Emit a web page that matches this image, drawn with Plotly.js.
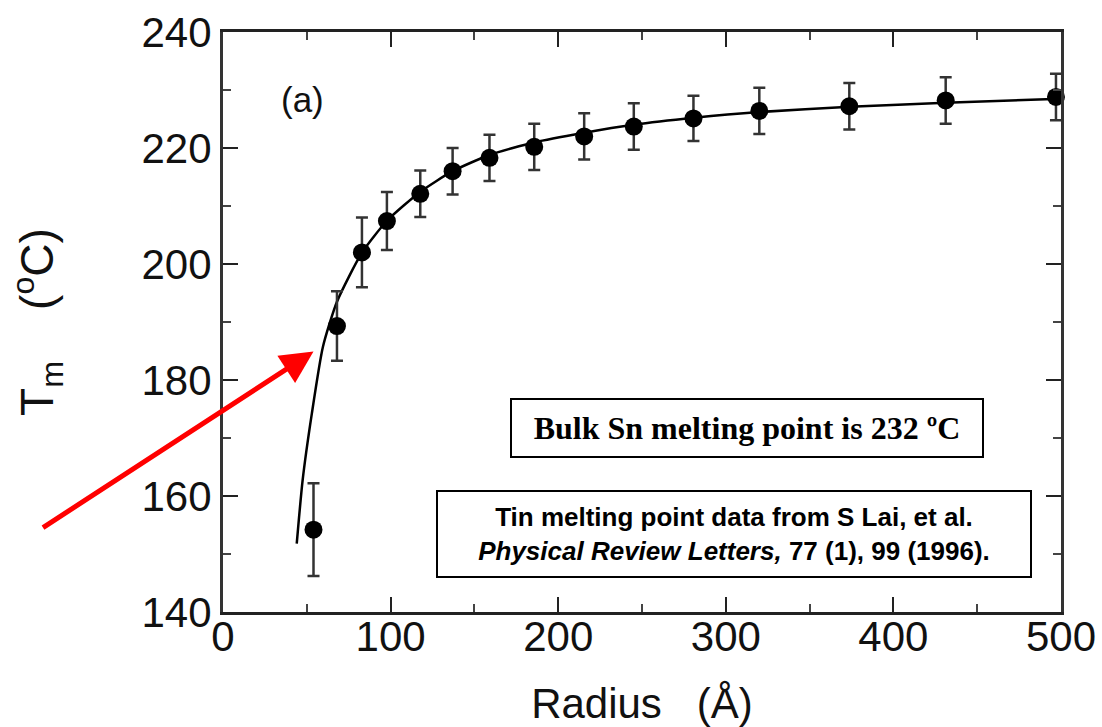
<!DOCTYPE html>
<html>
<head>
<meta charset="utf-8">
<script src="https://cdn.plot.ly/plotly-3.0.1.min.js"></script>
<style>html,body{margin:0;padding:0;background:#fff;}#chart{width:1102px;height:727px;}</style>
</head>
<body>
<div id="chart"></div>
<script>
// Measured data (radius in Å, melting temperature in °C, error bar half-height)
const radius = [54.0, 68.0, 82.9, 97.8, 117.7, 137.0, 159.0, 185.7, 215.5, 245.1, 280.7, 320.0, 373.7, 431.2, 497.0];
const meltT  = [154.2, 189.3, 202.0, 207.4, 212.1, 216.0, 218.3, 220.2, 222.0, 223.7, 225.1, 226.4, 227.2, 228.2, 228.8];
const meltErr = [8.0, 6.0, 6.0, 5.0, 4.0, 4.0, 4.0, 4.0, 4.0, 4.0, 3.9, 4.0, 4.0, 4.0, 4.0];

// Fitted curve
const fitR = [44, 47.5, 53, 59.6, 68, 83, 98, 118, 137, 159, 186, 215, 245, 281, 320, 374, 431, 500];
const fitT = [151.8, 162.7, 174.2, 185.7, 193.5, 202.0, 207.5, 212.5, 216.0, 218.8, 221.0, 222.6, 224.0, 225.2, 226.2, 227.1, 227.8, 228.5];

const xTickVals = [0, 100, 200, 300, 400, 500];
const yTickVals = [140, 160, 180, 200, 220, 240];

const panelLabel = '(a)';
const bulkNote = 'Bulk Sn melting point is 232 ºC';
const sourceLine1 = 'Tin melting point data from S Lai, et al.';
const sourceLine2a = 'Physical Review Letters,';
const sourceLine2b = ' 77 (1), 99 (1996).';

const axisFont = {family: 'Liberation Sans, Arial, sans-serif', size: 42, color: '#111'};

const traces = [
  {
    x: fitR, y: fitT, mode: 'lines', type: 'scatter',
    line: {color: '#000', width: 2.5, shape: 'spline', smoothing: 0.6},
    hoverinfo: 'skip', showlegend: false
  },
  {
    x: radius, y: meltT, mode: 'markers', type: 'scatter',
    marker: {color: '#000', size: 18, symbol: 'circle'},
    error_y: {type: 'data', array: meltErr, visible: true, color: '#333', thickness: 2.5, width: 6},
    cliponaxis: false, showlegend: false
  }
];

const layout = {
  width: 1102, height: 727,
  margin: {l: 223, r: 41, t: 32, b: 115, pad: 0},
  paper_bgcolor: '#fff', plot_bgcolor: '#fff',
  showlegend: false,
  xaxis: {
    range: [0, 500], tickvals: xTickVals, ticktext: xTickVals.map(String),
    ticks: 'inside', ticklen: 15, tickwidth: 2, tickcolor: '#222',
    minor: {dtick: 50, tick0: 0, ticks: 'inside', ticklen: 8, tickwidth: 2, tickcolor: '#444', showgrid: false},
    mirror: 'ticks', showline: true, linewidth: 3, linecolor: '#222',
    showgrid: false, zeroline: false, tickfont: axisFont, ticklabelstandoff: -14,
    title: {text: 'Radius\u00A0\u00A0\u00A0(Å)', font: axisFont, standoff: 31}
  },
  yaxis: {
    range: [140, 240], tickvals: yTickVals, ticktext: yTickVals.map(String),
    ticks: 'inside', ticklen: 15, tickwidth: 2, tickcolor: '#222',
    minor: {dtick: 10, tick0: 140, ticks: 'inside', ticklen: 8, tickwidth: 2, tickcolor: '#444', showgrid: false},
    mirror: 'ticks', showline: true, linewidth: 3, linecolor: '#333',
    showgrid: false, zeroline: false, tickfont: axisFont,
    title: {text: 'T<sub>m</sub>\u00A0\u00A0\u00A0\u00A0(<sup>o</sup>C)', font: {family: 'Liberation Sans, Arial, sans-serif', size: 46, color: '#111'}, standoff: 74}
  },
  annotations: [
    {x: 47.6, y: 228.3, xref: 'x', yref: 'y', text: panelLabel, showarrow: false,
     font: {family: 'Liberation Sans, Arial, sans-serif', size: 35, color: '#111'}},
    {x: 312.7, y: 171.8, xref: 'x', yref: 'y', text: '<b>' + bulkNote + '</b>', showarrow: false,
     font: {family: 'Liberation Serif, Times New Roman, serif', size: 32, color: '#000'},
     bordercolor: '#000', borderwidth: 2, borderpad: 2, bgcolor: '#fff', width: 466, height: 52},
    {x: 305, y: 153.5, xref: 'x', yref: 'y',
     text: '<b>' + sourceLine1 + '<br><i>' + sourceLine2a + '</i>' + sourceLine2b + '</b>', showarrow: false,
     font: {family: 'Liberation Sans, Arial, sans-serif', size: 26, color: '#000'},
     bordercolor: '#000', borderwidth: 2, borderpad: 2, bgcolor: '#fff', width: 588, height: 80, align: 'center'},
    {x: 54.0, y: 184.9, xref: 'x', yref: 'y', ax: -272, ay: 177, text: '', showarrow: true,
     arrowhead: 2, arrowsize: 1.3, arrowwidth: 5, arrowcolor: '#ff0000'}
  ]
};

Plotly.newPlot('chart', traces, layout, {displayModeBar: false, staticPlot: true});
</script>
</body>
</html>
